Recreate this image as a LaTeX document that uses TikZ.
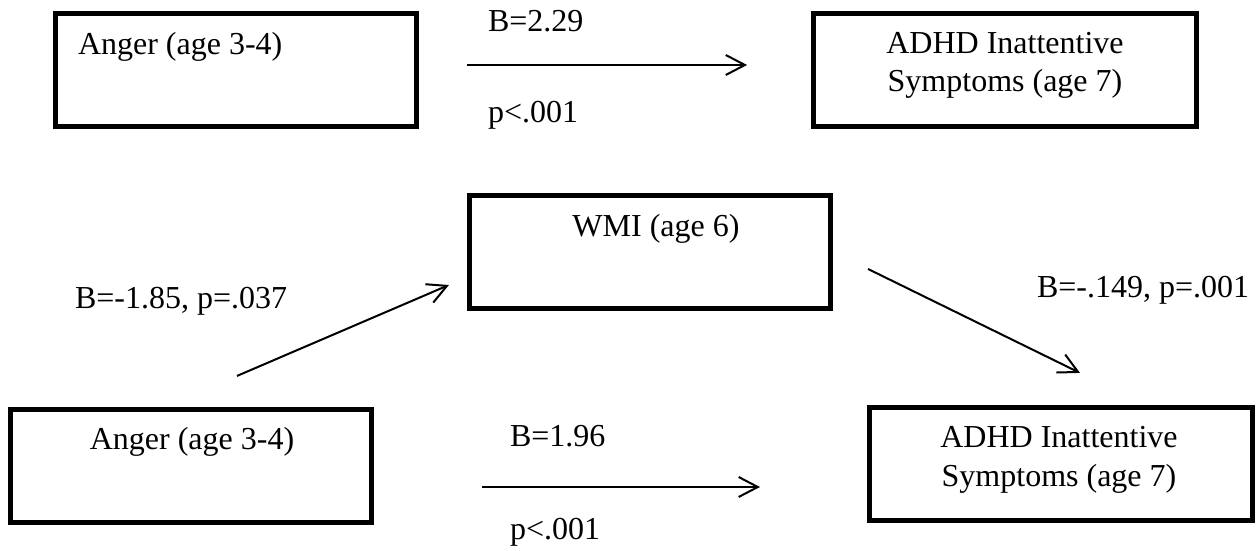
\documentclass[tikz,border=0pt]{standalone}
\usepackage{fontspec}
\setmainfont{Liberation Serif}
\usetikzlibrary{arrows.meta,calc}
\begin{document}
\begin{tikzpicture}[
  x=0.375pt, y=-0.375pt,
  font=\fontsize{12pt}{14.2pt}\selectfont,
  varbox/.style={draw=black, line width=1.75pt, rectangle, inner sep=0pt, outer sep=0pt,
                 minimum height=42.5pt},
  narrowbox/.style={varbox, minimum width=135.5pt},
  widebox/.style={varbox, minimum width=143.7pt},
  txt/.style={inner sep=0pt, outer sep=0pt},
  path/.style={line width=0.75pt, -{Straight Barb[length=7.2pt,width=7.5pt,line width=0.75pt]}},
]
\useasboundingbox (0,0) rectangle (1256,551);

% --- total effect ---
\node[narrowbox] (angA) at (236,70) {};
\node[widebox]   (adhdA) at (1005,70) {};
\node[txt, anchor=base west] (angAt) at (78,55) {Anger (age 3-4)};
\node[txt, anchor=base] (adhdAt1) at (1005,54) {ADHD Inattentive};
\node[txt, anchor=base] (adhdAt2) at (1005,92) {Symptoms (age 7)};

\coordinate (c1s) at ($(angA.east)+(50.3,-5)$);
\coordinate (c1e) at ($(adhdA.west)+(-66.3,-5)$);
\draw[path] (c1s) -- (c1e);
\node[txt, anchor=base west] (c1b) at (488,32) {B=2.29};
\node[txt, anchor=base west] (c1p) at (488,123) {p<.001};

% --- mediation model ---
\node[narrowbox] (wmi) at (650,252) {};
\node[txt, anchor=base] (wmit) at (656,237) {WMI (age 6)};

\node[narrowbox] (angB) at (191,466) {};
\node[txt, anchor=base] (angBt) at (192,450) {Anger (age 3-4)};

\node[widebox] (adhdB) at (1061,464) {};
\node[txt, anchor=base] (adhdBt1) at (1059,448) {ADHD Inattentive};
\node[txt, anchor=base] (adhdBt2) at (1059,487) {Symptoms (age 7)};

% a path
\coordinate (aS) at ($(angB.north)+(46,-33.4)$);
\coordinate (aE) at ($(wmi.west)+(-20.4,33)$);
\draw[path] (aS) -- (aE);
\node[txt, anchor=base west] (aL) at (75,309) {B=-1.85, p=.037};

% b path
\coordinate (bS) at ($(wmi.east)+(37.4,17)$);
\coordinate (bE) at ($(adhdB.north)+(19,-34.4)$);
\draw[path] (bS) -- (bE);
\node[txt, anchor=base west] (bL) at (1037,298) {B=-.149, p=.001};

% direct path
\coordinate (dS) at ($(angB.east)+(110.4,21)$);
\coordinate (dE) at ($(adhdB.west)+(-109.4,23)$);
\draw[path] (dS) -- (dE);
\node[txt, anchor=base west] (dB) at (510,447) {B=1.96};
\node[txt, anchor=base west] (dP) at (510,540) {p<.001};
\end{tikzpicture}
\end{document}
